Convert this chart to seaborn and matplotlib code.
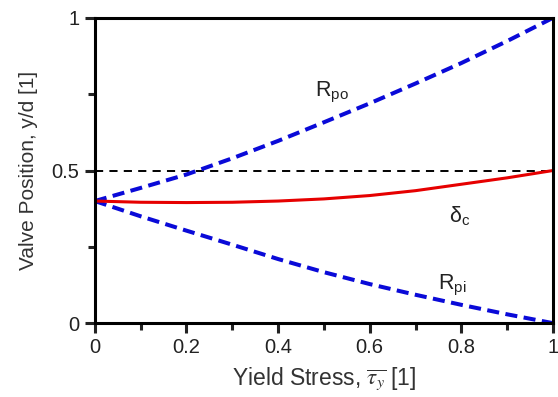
import numpy as np
import pandas as pd
import matplotlib
matplotlib.use("Agg")
import matplotlib.pyplot as plt
import seaborn as sns

# Data
x_vals = [0.0, 0.1, 0.2, 0.3, 0.4, 0.5, 0.6, 0.7, 0.8, 0.9, 1.0]
r_po = [0.400, 0.443, 0.487, 0.540, 0.597, 0.658, 0.720, 0.785, 0.852, 0.924, 1.000]
r_pi = [0.400, 0.350, 0.303, 0.257, 0.210, 0.167, 0.128, 0.093, 0.060, 0.029, 0.000]
delta_c = [0.400, 0.396, 0.395, 0.396, 0.400, 0.407, 0.418, 0.434, 0.455, 0.476, 0.500]
ref_line = [0.5, 0.5, 0.5, 0.5, 0.5, 0.5, 0.5, 0.5, 0.5, 0.5, 0.5]

x_ticks = [0, 0.2, 0.4, 0.6, 0.8, 1]
x_ticklabels = ["0", "0.2", "0.4", "0.6", "0.8", "1"]
y_ticks = [0, 0.5, 1]
y_ticklabels = ["0", "0.5", "1"]

sns.set_style("ticks")
plt.rcParams["font.family"] = ["Liberation Sans", "DejaVu Sans"]
plt.rcParams["mathtext.fontset"] = "custom"
plt.rcParams["mathtext.rm"] = "Liberation Sans"
plt.rcParams["mathtext.it"] = "Liberation Sans:italic"

df = pd.DataFrame({"x": x_vals, "rpo": r_po, "rpi": r_pi, "dc": delta_c, "ref": ref_line})

fig = plt.figure(figsize=(5.58, 3.97), dpi=100)
ax = fig.add_axes([0.170, 0.186, 0.821, 0.769])

sns.lineplot(data=df, x="x", y="ref", ax=ax, color="black", linewidth=1.4,
             estimator=None)
ax.lines[-1].set_dashes([4.2, 3.2])
sns.lineplot(data=df, x="x", y="rpo", ax=ax, color="#0a0ad8", linewidth=2.9,
             estimator=None)
ax.lines[-1].set_dashes([3.0, 1.6])
sns.lineplot(data=df, x="x", y="rpi", ax=ax, color="#0a0ad8", linewidth=2.9,
             estimator=None)
ax.lines[-1].set_dashes([3.0, 1.6])
sns.lineplot(data=df, x="x", y="dc", ax=ax, color="#e60000", linewidth=2.2,
             estimator=None)

ax.set_xlim(0, 1)
ax.set_ylim(0, 1)
ax.set_xticks(x_ticks)
ax.set_xticklabels(x_ticklabels)
ax.set_yticks(y_ticks)
ax.set_yticklabels(y_ticklabels)
ax.set_xticks([0.1, 0.3, 0.5, 0.7, 0.9], minor=True)
ax.set_yticks([0.25, 0.75], minor=True)
ax.tick_params(which="major", direction="out", length=7, width=2.2,
               labelsize=14.5, pad=4, colors="#222222")
ax.tick_params(which="minor", direction="out", length=5, width=2.2, color="#222222")
for sp in ax.spines.values():
    sp.set_linewidth(2.2)
    sp.set_color("black")

ax.set_xlabel("Yield Stress, $\\overline{\\tau_{y}}$ [1]", fontsize=16.5,
              color="#333333", labelpad=6, math_fontfamily="stix")
ax.set_ylabel("Valve Position, y/d [1]", fontsize=15, color="#333333", labelpad=10)

ax.text(0.48, 0.757, "R$_{\\mathrm{po}}$", fontsize=15.5, color="#222222",
        ha="left", va="center")
ax.text(0.772, 0.351, "$\\mathrm{\\delta}_{\\mathrm{c}}$", fontsize=15.5, color="#222222",
        ha="left", va="center")
ax.text(0.749, 0.125, "R$_{\\mathrm{pi}}$", fontsize=15.5, color="#222222",
        ha="left", va="center")

fig.savefig("out.png", dpi=100)
